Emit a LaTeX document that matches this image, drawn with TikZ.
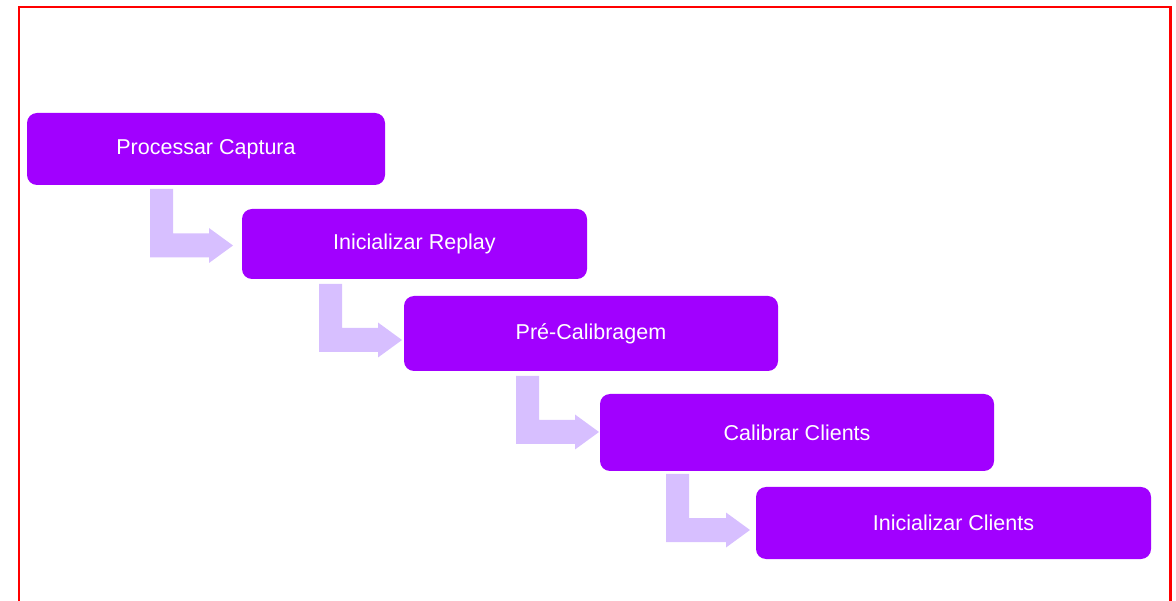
\documentclass[tikz,border=0pt]{standalone}
\usepackage{fontspec}
\setmainfont{Liberation Sans}
\usetikzlibrary{calc}

\definecolor{stepfill}{HTML}{A100FF}
\definecolor{flowfill}{HTML}{D7BFFF}
\definecolor{framered}{HTML}{FF0000}

\tikzset{
  stepbox/.style={rectangle, rounded corners=10pt, fill=stepfill, draw=none,
    text=white, inner sep=0pt, anchor=center,
    font=\fontsize{21.5}{24}\selectfont},
  bentarrow/.style={fill=flowfill, draw=none},
  frame/.style={draw=framered, line width=2.5pt}
}

% bent (L-shaped) arrow: #1 = top-left of the stem, #2 = arrow tip
\newcommand{\bentflow}[2]{%
  \fill[bentarrow] let \p1=(#1), \p2=(#2) in
    (\x1,\y1) -- (\x1+23pt,\y1) -- (\x1+23pt,\y2+12pt)
    -- (\x2-24pt,\y2+12pt) -- (\x2-24pt,\y2+17.5pt) -- (\x2,\y2)
    -- (\x2-24pt,\y2-17.5pt) -- (\x2-24pt,\y2-12pt)
    -- (\x1,\y2-12pt) -- cycle;}

\begin{document}
\begin{tikzpicture}[x=1pt, y=-1pt]
  \useasboundingbox (0,0) rectangle (1176,601);

  % outer frame (open at the bottom edge of the page)
  \draw[frame] (19,620) -- (19,7) -- (1170.7,7) -- (1170.7,620);

  % process steps
  \node[stepbox, minimum width=358pt, minimum height=72pt] (p1) at (206,149) {Processar Captura};
  \node[stepbox, minimum width=345pt, minimum height=70pt] (p2) at (414.5,244) {Inicializar Replay};
  \node[stepbox, minimum width=374pt, minimum height=75pt] (p3) at (591,333.5) {Pré-Calibragem};
  \node[stepbox, minimum width=394pt, minimum height=77pt] (p4) at (797,432.5) {Calibrar Clients};
  \node[stepbox, minimum width=395pt, minimum height=72pt] (p5) at (953.5,523) {Inicializar Clients};

  % stem tops and arrow tips
  \coordinate (s1) at (150,189);  \coordinate (t1) at (233,245.5);
  \coordinate (s2) at (319,284);  \coordinate (t2) at (402,340);
  \coordinate (s3) at (516,376);  \coordinate (t3) at (599,432);
  \coordinate (s4) at (666,474);  \coordinate (t4) at (750,530);

  \bentflow{s1}{t1}
  \bentflow{s2}{t2}
  \bentflow{s3}{t3}
  \bentflow{s4}{t4}
\end{tikzpicture}
\end{document}
